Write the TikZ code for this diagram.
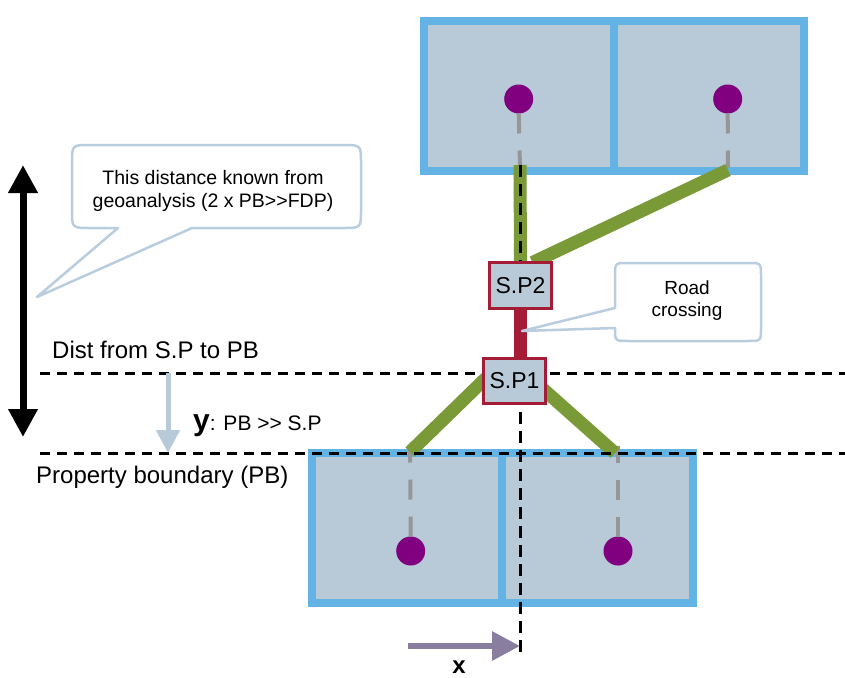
\documentclass[tikz,border=0pt]{standalone}
\usepackage{fontspec}
\setmainfont{Liberation Sans}
\usetikzlibrary{arrows.meta}
\definecolor{propfill}{HTML}{B8CAD8}
\definecolor{propedge}{HTML}{63B4E5}
\definecolor{grn}{HTML}{7A9A38}
\definecolor{rd}{HTML}{A51C36}
\definecolor{dotc}{HTML}{800080}
\definecolor{gry}{HTML}{969696}
\definecolor{callc}{HTML}{B9CDDE}
\definecolor{arrblue}{HTML}{B8CAD9}
\definecolor{arrpurp}{HTML}{8A7EA0}
\pgfdeclarelayer{back}
\pgfdeclarelayer{mid}
\pgfsetlayers{back,mid,main}
\begin{document}
\begin{tikzpicture}[x=1pt,y=-1pt,
  propbox/.style={draw=propedge, fill=propfill, line width=8pt, minimum width=190pt, minimum height=150pt, inner sep=0pt, outer sep=0pt},
  spbox/.style={draw=rd, fill=propfill, line width=3pt, inner sep=0pt, outer sep=0pt, font=\fontsize{23}{25}\selectfont},
  dotn/.style={circle, fill=dotc, minimum size=29pt, inner sep=0pt, outer sep=0pt},
  grayline/.style={draw=gry, line width=4pt, dash pattern=on 20pt off 17pt},
  greenline/.style={draw=grn, line width=13pt},
  redline/.style={draw=rd, line width=13pt},
  blackdash/.style={draw=black, line width=3pt, dash pattern=on 10pt off 7pt},
  callout/.style={draw=callc, fill=white, line width=2.5pt, line join=round},
  lbl/.style={font=\fontsize{24}{28}\selectfont, inner sep=0pt},
  ctext/.style={align=center, inner sep=0pt}
]
\useasboundingbox (0,0) rectangle (845,677);

% S.P boxes (main layer, on top of connectors)
\node[spbox, minimum width=62pt, minimum height=46pt] (sp2) at (520.5,285.5) {S.P2};
\node[spbox, minimum width=62pt, minimum height=45pt] (sp1) at (514.5,381) {S.P1};

\begin{pgfonlayer}{back}
  \node[propbox] (ta) at (519,96) {};
  \node[propbox] (tb) at (709,96) {};
  \node[propbox] (ba) at (407,528) {};
  \node[propbox, minimum width=191pt] (bb) at (597.5,528) {};
\end{pgfonlayer}

\begin{pgfonlayer}{mid}
  % houses (dots)
  \node[dotn] (d1) at (518.7,99) {};
  \node[dotn] (d2) at (727.7,99) {};
  \node[dotn] (d3) at (410.7,551) {};
  \node[dotn] (d4) at (618,551) {};
  \coordinate (g1) at (520,168);
  \coordinate (g2) at (728,168);
  \coordinate (g3) at (410,446);
  \coordinate (g4) at (618,446);
  \draw[grayline] (d1.south) -- (g1);
  \draw[grayline] (d2.south) -- (g2);
  \draw[grayline] (d3.north) -- (g3);
  \draw[grayline] (d4.north) -- (g4);
  % green service lines
  \coordinate (e1) at (520,165);
  \coordinate (e2) at (728,170);
  \coordinate (e3) at (410,452);
  \coordinate (e4) at (615,453);
  \draw[greenline] (e1) -- (sp2.north);
  \draw[greenline] (e2) -- ([xshift=12pt]sp2.north);
  \draw[greenline] (e3) -- ([xshift=2.5pt,yshift=3pt]sp1.west);
  \draw[greenline] (e4) -- ([xshift=-2.5pt,yshift=-8pt]sp1.east);
  % dashed reference lines
  \coordinate (h1a) at (40,373);
  \coordinate (h1b) at (845,373);
  \coordinate (h2a) at (40,453);
  \coordinate (h2b) at (845,453);
  \coordinate (v1a) at (520,165);
  \coordinate (v1b) at (520,658);
  \draw[blackdash] (h1a) -- (h1b);
  \draw[blackdash] (h2a) -- (h2b);
  \draw[blackdash, dash pattern=on 12pt off 7pt] (v1a) -- (v1b);
  % road crossing
  \draw[redline] (sp2.south) -- (sp2.south |- sp1.north);
\end{pgfonlayer}

% callouts
\draw[callout] (37,297) -- (118,228) -- (90,228) .. controls (72,228) .. (72,210) -- (72,163) .. controls (72,145) .. (90,145) -- (343,145) .. controls (361,145) .. (361,163) -- (361,210) .. controls (361,228) .. (343,228) -- (192,228) -- cycle;
\node[ctext, font=\fontsize{19.5}{23}\selectfont] (c1t) at (213,191) {This distance known from\\geoanalysis (2 x PB>{}>FDP)};

\draw[callout] (522,331) -- (615,308) -- (615,276) .. controls (615,263) .. (628,263) -- (748,263) .. controls (761,263) .. (761,276) -- (761,328) .. controls (761,341) .. (748,341) -- (628,341) .. controls (615,341) .. (615,328) -- cycle;
\node[ctext, font=\fontsize{19}{22}\selectfont] (c2t) at (687,301) {Road\\crossing};

% labels
\node[lbl, anchor=west] (dist) at (52,350) {Dist from S.P to PB};
\node[lbl, anchor=west] (pb) at (36,477) {Property boundary (PB)};
\node[anchor=base west, inner sep=0pt] (ylab) at (193,430) {{\fontsize{30}{30}\selectfont\bfseries y}{\fontsize{21}{24}\selectfont: PB >{}> S.P}};
\node[anchor=base, inner sep=0pt, font=\fontsize{24}{24}\selectfont\bfseries] (xl) at (459,673) {x};

% arrows
\coordinate (da1) at (23,165);
\coordinate (da2) at (23,437);
\draw[line width=7pt, {Triangle[width=28pt,length=28pt]}-{Triangle[width=28pt,length=28pt]}] (da1) -- (da2);
\coordinate (ya1) at (168,373);
\coordinate (ya2) at (168,453);
\draw[arrblue, line width=5pt, -{Triangle[width=23pt,length=23pt]}] (ya1) -- (ya2);
\coordinate (xa1) at (408,646);
\coordinate (xa2) at (520,646);
\draw[arrpurp, line width=6pt, -{Triangle[width=28pt,length=28pt]}] (xa1) -- (xa2);
\end{tikzpicture}
\end{document}
